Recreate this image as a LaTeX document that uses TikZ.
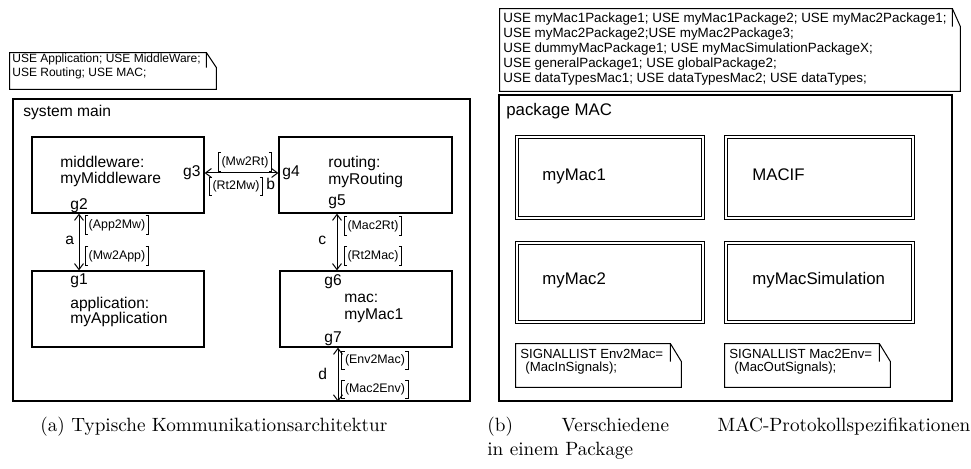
\documentclass[tikz,border=0pt]{standalone}
\usepackage{fontspec}
\newfontfamily\arial{Liberation Sans}
\usetikzlibrary{arrows.meta,fit,calc}

% folded-corner text symbol drawn around an (invisible) area node
\newcommand\foldednote[3]{%
  \draw[line width=0.5pt] (#1.north west) -- ($(#1.north east)+(-#2,0)$)
    -- ($(#1.north east)+(0,#3)$) -- (#1.south east) -- (#1.south west) -- cycle
    ($(#1.north east)+(-#2,0)$) -- ($(#1.north east)+(-#2,#3)$);}
% square brackets round a signal-list label
\newcommand\bracketsof[1]{%
  \draw[line width=0.45pt] ($(#1.north west)+(3,0)$) -- (#1.north west) -- (#1.south west) -- ($(#1.south west)+(3,0)$)
    ($(#1.north east)+(-3,0)$) -- (#1.north east) -- (#1.south east) -- ($(#1.south east)+(-3,0)$);}

\begin{document}
\begin{tikzpicture}[x=0.5pt,y=-0.5pt,
  frame/.style={draw, line width=0.6pt, inner sep=0pt},
  block/.style={draw, line width=0.6pt, inner sep=0pt},
  pkgbox/.style={draw, line width=0.45pt, double, double distance=1.15pt, inner sep=0pt},
  area/.style={inner sep=0pt},
  txt/.style={font=\arial\fontsize{7.8}{9}\selectfont, inner sep=0pt, anchor=base west},
  bigtxt/.style={font=\arial\fontsize{8.4}{10}\selectfont, inner sep=0pt, anchor=base west},
  notetxt/.style={font=\arial\fontsize{6}{7}\selectfont, inner sep=0pt, anchor=base west},
  pnotetxt/.style={font=\arial\fontsize{6.7}{7.5}\selectfont, inner sep=0pt, anchor=base west},
  snotetxt/.style={font=\arial\fontsize{6.6}{7}\selectfont, inner sep=0pt, anchor=base west},
  sig/.style={font=\arial\fontsize{6.2}{7}\selectfont, inner xsep=1.5pt, inner ysep=0pt, minimum height=9pt},
  conn/.style={line width=0.5pt, {Straight Barb[length=3pt,width=4.5pt]}-{Straight Barb[length=3pt,width=4.5pt]}},
  caption/.style={font=\fontsize{9.6}{12}\selectfont, inner sep=0pt, anchor=base west}
]
\useasboundingbox (0,0) rectangle (971,469);

% ---------- (a) communication architecture ----------
\node[area, fit={(10,53) (216,89)}] (usea) {};
\foldednote{usea}{10}{15}
\node[notetxt] (usea1) at (12,62.5) {USE Application; USE MiddleWare;};
\node[notetxt] (usea2) at (12,76.5) {USE Routing; USE MAC;};

\node[frame, fit={(13,99) (470,401)}] (sys) {};
\node[txt] (systitle) at (23,117) {system main};

\node[block, fit={(32,137) (204,213)}] (mw) {};
\node[block, fit={(32,271) (204,347)}] (app) {};
\node[block, fit={(279,137) (452,213)}] (rt) {};
\node[block, fit={(280,271) (452,347)}] (mac) {};

\node[txt] (mw1) at (60,168) {middleware:};
\node[txt] (mw2) at (60,184) {myMiddleware};
\node[txt] (g2) at (70,210) {g2};
\node[txt, anchor=base east] (g3) at (201,177) {g3};

\node[txt] (g1) at (70,285) {g1};
\node[txt] (app1) at (70,309) {application:};
\node[txt] (app2) at (70,324) {myApplication};

\node[txt] (g4) at (282,177) {g4};
\node[txt] (rt1) at (328,168) {routing:};
\node[txt] (rt2) at (328,185) {myRouting};
\node[txt] (g5) at (328,206) {g5};

\node[txt] (g6) at (324,286) {g6};
\node[txt] (mac1) at (344,303) {mac:};
\node[txt] (mac2) at (344,320) {myMac1};
\node[txt] (g7) at (324,343) {g7};

% channels
\coordinate (pa) at (79,0);
\coordinate (pb) at (0,173);
\coordinate (pc) at (337,0);
\coordinate (pd) at (338,0);
\draw[conn] (mw.south -| pa) -- (app.north -| pa);
\draw[conn] (mw.east |- pb) -- (rt.west |- pb);
\draw[conn] (rt.south -| pc) -- (mac.north -| pc);
\draw[conn] (mac.south -| pd) -- (sys.south -| pd);

\node[txt] (la) at (65,245) {a};
\node[txt] (lb) at (266,190) {b};
\node[txt] (lc) at (318,245) {c};
\node[txt] (ld) at (318,380) {d};

\node[sig] (s1) at (117,225) {(App2Mw)};   \bracketsof{s1}
\node[sig] (s2) at (117,256) {(Mw2App)};   \bracketsof{s2}
\node[sig] (s3) at (245,162) {(Mw2Rt)};    \bracketsof{s3}
\node[sig] (s4) at (236,186.5) {(Rt2Mw)};  \bracketsof{s4}
\node[sig] (s5) at (373,226) {(Mac2Rt)};   \bracketsof{s5}
\node[sig] (s6) at (373,256) {(Rt2Mac)};   \bracketsof{s6}
\node[sig] (s7) at (375,360.5) {(Env2Mac)}; \bracketsof{s7}
\node[sig] (s8) at (375,389.5) {(Mac2Env)}; \bracketsof{s8}

% ---------- (b) MAC package ----------
\node[area, fit={(500,9) (960,91)}] (useb) {};
\foldednote{useb}{8}{18}
\node[pnotetxt] (ub1) at (503,22.5) {USE myMac1Package1; USE myMac1Package2; USE myMac2Package1;};
\node[pnotetxt] (ub2) at (503,37.5) {USE myMac2Package2;USE myMac2Package3;};
\node[pnotetxt] (ub3) at (503,52.5) {USE dummyMacPackage1; USE myMacSimulationPackageX;};
\node[pnotetxt] (ub4) at (503,67.5) {USE generalPackage1; USE globalPackage2;};
\node[pnotetxt] (ub5) at (503,82.5) {USE dataTypesMac1; USE dataTypesMac2; USE dataTypes;};

\node[frame, fit={(499,95) (952,401)}] (pkg) {};
\node[bigtxt] (pkgtitle) at (506,116) {package MAC};

\node[pkgbox, fit={(517,137) (703,218)}] (b1) {};
\node[pkgbox, fit={(726,137) (913,218)}] (b2) {};
\node[pkgbox, fit={(517,243) (703,322)}] (b3) {};
\node[pkgbox, fit={(726,243) (913,322)}] (b4) {};
\node[bigtxt] (b1t) at (542,181) {myMac1};
\node[bigtxt] (b2t) at (752,181) {MACIF};
\node[bigtxt] (b3t) at (542,285) {myMac2};
\node[bigtxt] (b4t) at (752,285) {myMacSimulation};

\node[area, fit={(516,344) (681,387)}] (sl1) {};
\foldednote{sl1}{11}{18}
\node[snotetxt] (sl1a) at (520,359) {SIGNALLIST Env2Mac=};
\node[snotetxt] (sl1b) at (525,372) {(MacInSignals);};

\node[area, fit={(725,344) (890,387)}] (sl2) {};
\foldednote{sl2}{11}{18}
\node[snotetxt] (sl2a) at (729,359) {SIGNALLIST Mac2Env=};
\node[snotetxt] (sl2b) at (734,372) {(MacOutSignals);};

% ---------- captions ----------
\node[caption] (capa) at (40,432) {(a) Typische Kommunikationsarchitektur};
\node[caption, text width=241.5pt, align=justify] (capb) at (487,432)
  {\hbadness=10000 (b) Verschiedene MAC-Protokollspezifikationen\linebreak in einem Package};
\end{tikzpicture}
\end{document}
